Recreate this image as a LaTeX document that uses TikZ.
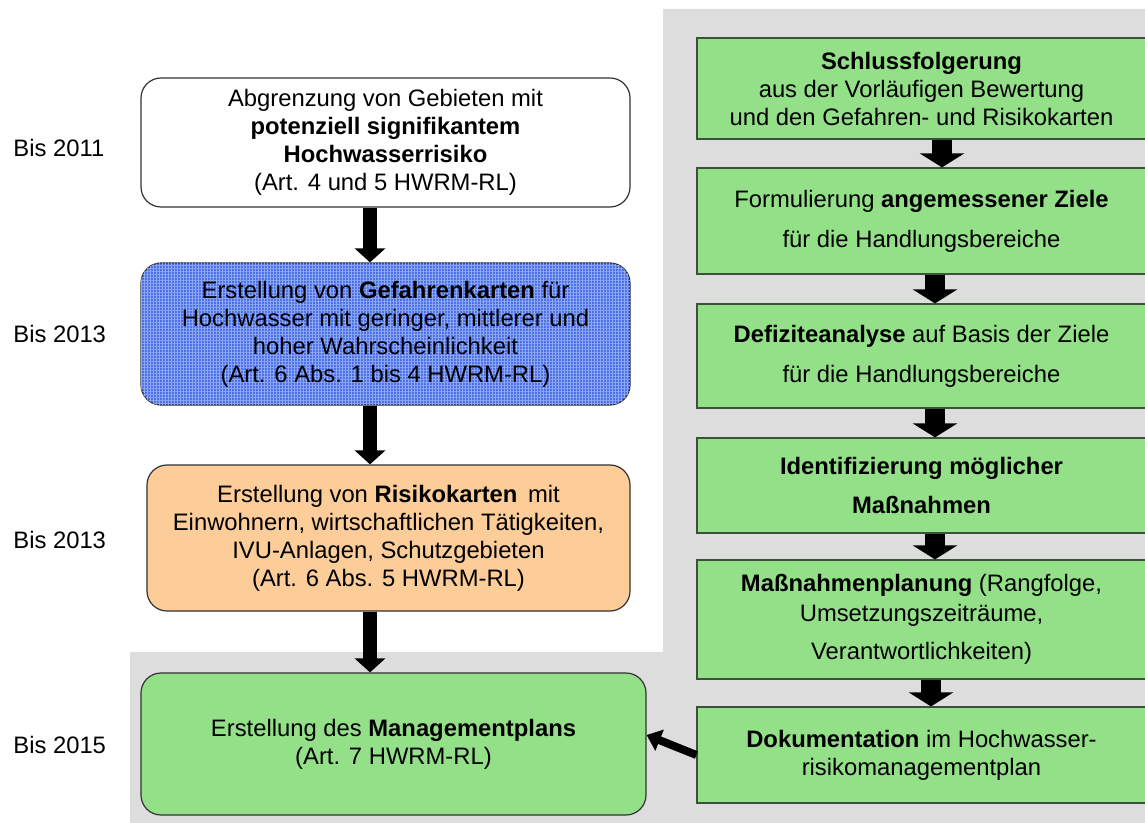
\documentclass[tikz,border=0pt]{standalone}
\usepackage{fontspec}
\setmainfont{Liberation Sans}
\usetikzlibrary{arrows.meta,patterns.meta}
\definecolor{bggrey}{RGB}{221,221,221}
\definecolor{stepgreen}{RGB}{147,224,137}
\definecolor{greenline}{RGB}{60,80,60}
\definecolor{boxline}{RGB}{50,50,50}
\definecolor{hazardblue}{RGB}{80,112,230}
\definecolor{gridblue}{RGB}{140,168,248}
\definecolor{riskorange}{RGB}{252,204,153}

\begin{document}
\begin{tikzpicture}[x=0.5pt,y=-0.5pt,
	every node/.style={font=\fontsize{11.9}{14}\selectfont, align=center, inner sep=0pt},
	leftbox/.style={draw=boxline, line width=0.6pt, rounded corners=10pt},
	rightbox/.style={draw=greenline, fill=stepgreen, line width=0.6pt, minimum width=224.5pt},
	yearlabel/.style={anchor=west},
	bigarrow/.style={line width=7pt, -{Triangle[width=15pt,length=7pt]}},
	fatarrow/.style={line width=10pt, -{Triangle[width=22pt,length=7pt]}},
	]
		\useasboundingbox (0,0) rectangle (1145,823);
		\clip (0,0) rectangle (1145,823);
		% grey background
		\fill[bggrey] (663,9) -- (1150,9) -- (1150,830) -- (130,830) -- (130,652) -- (663,652) -- cycle;
		
		% left column
		\node[leftbox, fill=white, minimum width=244.5pt, minimum height=64.5pt] (abgr) at (385.5,142.5)
			{Abgrenzung von Gebieten mit\\\textbf{potenziell signifikantem}\\\textbf{Hochwasserrisiko}\\(Art. 4 und 5 HWRM-RL)};
		\node[leftbox, fill=hazardblue, minimum width=244.5pt, minimum height=71pt,
			postaction={pattern={Lines[angle=0,distance=1.5pt,line width=0.3pt]}, pattern color=gridblue},
			postaction={pattern={Lines[angle=90,distance=1.5pt,line width=0.3pt]}, pattern color=gridblue}] (gefahr) at (385.5,334)
			{Erstellung von \textbf{Gefahrenkarten} für\\Hochwasser mit geringer, mittlerer und\\hoher Wahrscheinlichkeit\\(Art. 6 Abs. 1 bis 4 HWRM-RL)};
		\node[leftbox, fill=riskorange, minimum width=241.5pt, minimum height=73pt] (risiko) at (388.5,538)
			{Erstellung von \textbf{Risikokarten}\, mit\\Einwohnern, wirtschaftlichen Tätigkeiten,\\IVU-Anlagen, Schutzgebieten\\(Art. 6 Abs. 5 HWRM-RL)};
		\node[leftbox, fill=stepgreen, minimum width=252.5pt, minimum height=71pt] (plan) at (393.5,744)
			{Erstellung des \textbf{Managementplans}\\(Art. 7 HWRM-RL)};
		
		% years
		\node[yearlabel] (y1) at (13,148) {Bis 2011};
		\node[yearlabel] (y2) at (13,334) {Bis 2013};
		\node[yearlabel] (y3) at (13,540) {Bis 2013};
		\node[yearlabel] (y4) at (13,745) {Bis 2015};
		
		% right column
		\node[rightbox, minimum height=50.5pt] (schluss) at (921.5,88.5)
			{\textbf{Schlussfolgerung}\\aus der Vorläufigen Bewertung\\und den Gefahren- und Risikokarten};
		\node[rightbox, minimum height=53pt] (ziele) at (921.5,221)
			{Formulierung \textbf{angemessener Ziele}\\[6pt]für die Handlungsbereiche};
		\node[rightbox, minimum height=52pt] (defizit) at (921.5,356)
			{\textbf{Defiziteanalyse} auf Basis der Ziele\\[6pt]für die Handlungsbereiche};
		\node[rightbox, minimum height=47.5pt] (ident) at (921.5,485.5)
			{\textbf{Identifizierung möglicher}\\[5.5pt]\textbf{Maßnahmen}};
		\node[rightbox, minimum height=59.5pt] (mplan) at (921.5,619.5)
			{\textbf{Maßnahmenplanung} (Rangfolge,\\[1pt]Umsetzungszeiträume,\\[5pt]Verantwortlichkeiten)};
		\node[rightbox, minimum height=48pt] (doku) at (921.5,755)
			{\textbf{Dokumentation} im Hochwasser-\\risikomanagementplan};
		
		% arrows
		\draw[bigarrow] (abgr.south -| 370,0) -- (gefahr.north -| 370,0);
		\draw[bigarrow] (gefahr.south -| 370,0) -- (risiko.north -| 370,0);
		\draw[bigarrow] (risiko.south -| 370,0) -- (plan.north -| 370,0);
		\draw[fatarrow] (schluss.south -| 942,0) -- (ziele.north -| 942,0);
		\draw[fatarrow] (ziele.south -| 935,0) -- (defizit.north -| 935,0);
		\draw[fatarrow] (defizit.south -| 935,0) -- (ident.north -| 935,0);
		\draw[fatarrow] (ident.south -| 935,0) -- (mplan.north -| 935,0);
		\draw[fatarrow] (mplan.south -| 931,0) -- (doku.north -| 931,0);
		\draw[line width=4pt, -{Triangle[width=11pt,length=7pt]}] (doku.west) -- ([yshift=4.5pt]plan.east);
\end{tikzpicture}
\end{document}
